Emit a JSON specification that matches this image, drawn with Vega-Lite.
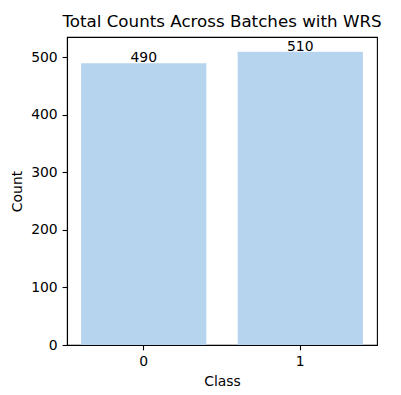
{
  "$schema": "https://vega.github.io/schema/vega-lite/v6.json",
  "width": 310,
  "height": 308,
  "autosize": {"type": "none"},
  "padding": {"left": 67, "top": 37, "right": 24, "bottom": 50},
  "background": "white",
  "config": {
    "font": "DejaVu Sans",
    "view": {"stroke": "black", "strokeWidth": 1.1},
    "axis": {
      "labelFont": "DejaVu Sans",
      "titleFont": "DejaVu Sans",
      "labelFontSize": 13.9,
      "titleFontSize": 13.9,
      "labelColor": "black",
      "titleColor": "black",
      "titleFontWeight": "normal",
      "tickColor": "black",
      "tickSize": 4.9,
      "tickWidth": 1.1,
      "domainColor": "black",
      "domainWidth": 1.1,
      "grid": false,
      "labelPadding": 4.9
    }
  },
  "title": {
    "text": "Total Counts Across Batches with WRS",
    "font": "DejaVu Sans",
    "fontSize": 16.7,
    "fontWeight": "normal",
    "color": "black",
    "anchor": "middle",
    "baseline": "bottom",
    "offset": 4.5,
    "dy": 15
  },
  "data": {
    "values": [
      {"Class": "0", "Count": 490},
      {"Class": "1", "Count": 510}
    ]
  },
  "encoding": {
    "x": {
      "field": "Class",
      "type": "nominal",
      "scale": {"paddingInner": 0.2, "paddingOuter": 0.09},
      "axis": {"labelAngle": 0, "title": "Class", "titlePadding": 6}
    },
    "y": {
      "field": "Count",
      "type": "quantitative",
      "scale": {"domain": [0, 535.5], "nice": false},
      "axis": {"values": [0, 100, 200, 300, 400, 500], "title": "Count", "titlePadding": 6}
    }
  },
  "layer": [
    {"mark": {"type": "bar", "color": "#b6d4ee"}},
    {
      "mark": {"type": "text", "baseline": "alphabetic", "dy": -1, "fontSize": 13.9, "font": "DejaVu Sans", "color": "black"},
      "encoding": {"text": {"field": "Count", "type": "quantitative"}}
    }
  ]
}
